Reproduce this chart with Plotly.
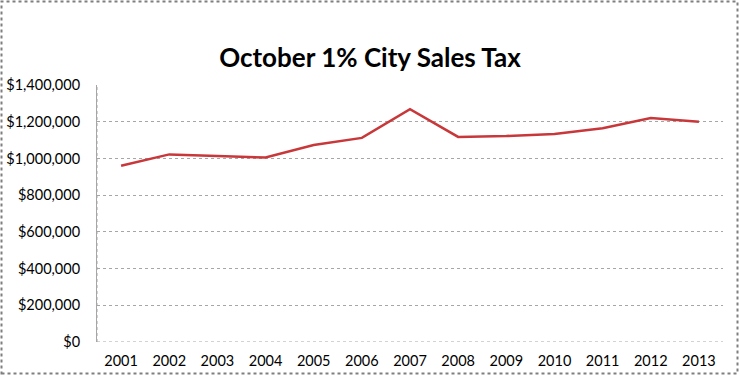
import plotly.graph_objects as go

years = ["2001", "2002", "2003", "2004", "2005", "2006", "2007",
         "2008", "2009", "2010", "2011", "2012", "2013"]
sales_tax = [960000, 1022000, 1013000, 1005000, 1073000, 1112000, 1268000,
             1117000, 1122000, 1133000, 1164000, 1220000, 1200000]
y_ticks = [0, 200000, 400000, 600000, 800000, 1000000, 1200000, 1400000]
y_tick_labels = ["$0", "$200,000", "$400,000", "$600,000", "$800,000",
                 "$1,000,000", "$1,200,000", "$1,400,000"]
title_text = "October 1% City Sales Tax"

W, H = 740, 376
L, R, T, B = 97, 17, 85, 34
pw, ph = W - L - R, H - T - B

fig = go.Figure()
fig.add_trace(go.Scatter(
    x=years, y=sales_tax, mode="lines",
    line=dict(color="#C8383A", width=2.5),
    hoverinfo="x+y", showlegend=False,
))

font_family = "Lato, 'Open Sans', 'DejaVu Sans', sans-serif"

fig.update_layout(
    template="none",
    width=W, height=H, autosize=False,
    margin=dict(l=L, r=R, t=T, b=B, pad=0),
    paper_bgcolor="white", plot_bgcolor="white",
    title=dict(text="<b>" + title_text + "</b>", x=0.5, xanchor="center",
               y=1 - 58 / H, yanchor="middle",
               font=dict(family=font_family, size=26, color="black")),
    font=dict(family=font_family, size=14, color="black"),
    xaxis=dict(
        type="category", range=[-0.5, len(years) - 0.5], automargin=False,
        showgrid=False, zeroline=False,
        showline=False, ticks="", tickfont=dict(size=14.5),
        ticklabelstandoff=8,
    ),
    yaxis=dict(
        range=[0, 1400000], tickvals=y_ticks, ticktext=y_tick_labels,
        automargin=False,
        showgrid=True, gridcolor="#A6A6A6", griddash="dot", gridwidth=1,
        zeroline=False, showline=True, linecolor="#A6A6A6", linewidth=1,
        ticks="", ticklabelstandoff=13, tickfont=dict(size=14.5),
    ),
    shapes=[
        dict(type="line", xref="paper", yref="y", x0=0, x1=1, y0=0, y1=0,
             line=dict(color="#A6A6A6", width=1, dash="dot"), layer="below"),
        dict(type="line", xref="paper", yref="paper", x0=0, x1=0, y0=0, y1=1,
             line=dict(color="#A6A6A6", width=1, dash="dot"), layer="above"),
        dict(type="rect", xref="paper", yref="paper",
             x0=(1.5 - L) / pw, x1=(737.5 - L) / pw,
             y0=(H - B - 373.5) / ph, y1=(H - B - 1.5) / ph,
             line=dict(color="#7F7F7F", width=2, dash="dot"),
             fillcolor="rgba(0,0,0,0)", layer="above"),
    ],
)

fig.write_html("out.html",
               config={"displayModeBar": False, "responsive": False},
               post_script="document.body.style.margin='0';")
